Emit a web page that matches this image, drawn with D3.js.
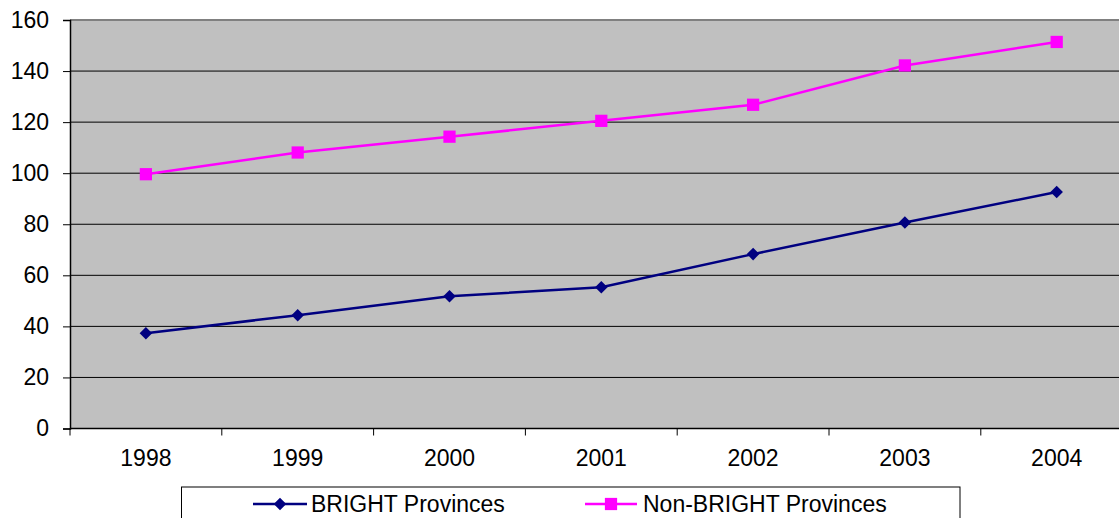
<!DOCTYPE html>
<html><head><meta charset="utf-8">
<script src="https://cdn.jsdelivr.net/npm/d3@7"></script>
<style>
html,body{margin:0;padding:0;background:#fff;}
svg{display:block;font-family:"Liberation Sans",Arial,sans-serif;}
</style></head>
<body>
<svg id="c" width="1119" height="518"></svg>
<script>
const years = ["1998","1999","2000","2001","2002","2003","2004"];
const brightValues = [37.3, 44.4, 51.8, 55.3, 68.3, 80.7, 92.6];
const nonBrightValues = [99.6, 108.1, 114.3, 120.5, 126.8, 142.2, 151.4];
const yTicks = [0,20,40,60,80,100,120,140,160];
const seriesNames = ["BRIGHT Provinces","Non-BRIGHT Provinces"];

const svg = d3.select("#c");
const L = 70, T = 20, B = 428.5, R = 1132.6;
const x = d3.scaleBand().domain(years).range([L, R]);
const y = d3.scaleLinear().domain([0,160]).range([B, T]);

// plot background
svg.append("rect").attr("x", L).attr("y", T).attr("width", R - L).attr("height", B - T)
  .attr("fill", "#C0C0C0");
// top border
svg.append("line").attr("x1", L).attr("x2", R).attr("y1", T).attr("y2", T)
  .attr("stroke", "#808080").attr("stroke-width", 2);

// gridlines
svg.append("g").selectAll("line").data(yTicks.filter(d => d > 0 && d < 160)).join("line")
  .attr("x1", L).attr("x2", R).attr("y1", d => y(d)).attr("y2", d => y(d))
  .attr("stroke", "#000").attr("stroke-width", 1);

// y axis
const yAxis = d3.axisLeft(y).tickValues(yTicks).tickSize(7).tickPadding(14).tickFormat(d3.format("d"));
const gy = svg.append("g").attr("transform", `translate(${L},0)`).call(yAxis);
gy.select(".domain").attr("stroke", "#000").attr("stroke-width", 1.5);
gy.selectAll(".tick line").attr("stroke", "#000");
gy.selectAll("text").attr("font-size", 23).attr("fill", "#000")
  .attr("font-family", "Liberation Sans, Arial, sans-serif");

// x axis with ticks at band boundaries
const gx = svg.append("g").attr("transform", `translate(0,${B})`);
gx.append("line").attr("x1", L).attr("x2", R).attr("stroke", "#000").attr("stroke-width", 1.5);
const bounds = years.map(d => x(d)).concat([R]);
gx.selectAll(".bt").data(bounds).join("line").attr("class","bt")
  .attr("x1", d => d).attr("x2", d => d).attr("y1", 0).attr("y2", 7).attr("stroke", "#000");
gx.selectAll("text").data(years).join("text")
  .attr("x", d => x(d) + x.bandwidth()/2).attr("y", 37)
  .attr("text-anchor", "middle").attr("font-size", 23).attr("fill", "#000").text(d => d);

const cx = d => x(d) + x.bandwidth()/2;
const line = d3.line().x((d,i) => cx(years[i])).y(d => y(d));

// series lines
svg.append("path").datum(nonBrightValues).attr("d", line).attr("fill","none")
  .attr("stroke", "#FF00FF").attr("stroke-width", 2.5);
svg.append("path").datum(brightValues).attr("d", line).attr("fill","none")
  .attr("stroke", "#000080").attr("stroke-width", 2.5);

const sqSym = d3.symbol().type(d3.symbolSquare).size(150);
const diaSym = d3.symbol().type(d3.symbolDiamond2).size(100);

svg.append("g").selectAll("path").data(nonBrightValues).join("path")
  .attr("d", sqSym).attr("transform", (d,i) => `translate(${cx(years[i])},${y(d)})`)
  .attr("fill", "#FF00FF");
svg.append("g").selectAll("path").data(brightValues).join("path")
  .attr("d", diaSym).attr("transform", (d,i) => `translate(${cx(years[i])},${y(d)})`)
  .attr("fill", "#000080");

// legend
const lg = svg.append("g");
lg.append("rect").attr("x", 181.5).attr("y", 487).attr("width", 778.5).attr("height", 40)
  .attr("fill", "#fff").attr("stroke", "#000").attr("stroke-width", 1);
const items = [
  {name: seriesNames[0], color: "#000080", sym: diaSym, x0: 253, x1: 307, tx: 311},
  {name: seriesNames[1], color: "#FF00FF", sym: sqSym, x0: 585, x1: 637, tx: 643}
];
const ly = 504;
items.forEach(it => {
  lg.append("line").attr("x1", it.x0).attr("x2", it.x1).attr("y1", ly).attr("y2", ly)
    .attr("stroke", it.color).attr("stroke-width", 2.5);
  lg.append("path").attr("d", it.sym).attr("transform", `translate(${(it.x0+it.x1)/2},${ly})`)
    .attr("fill", it.color);
  lg.append("text").attr("x", it.tx).attr("y", ly + 8).attr("font-size", 23).attr("fill", "#000")
    .text(it.name);
});
</script>
</body></html>
